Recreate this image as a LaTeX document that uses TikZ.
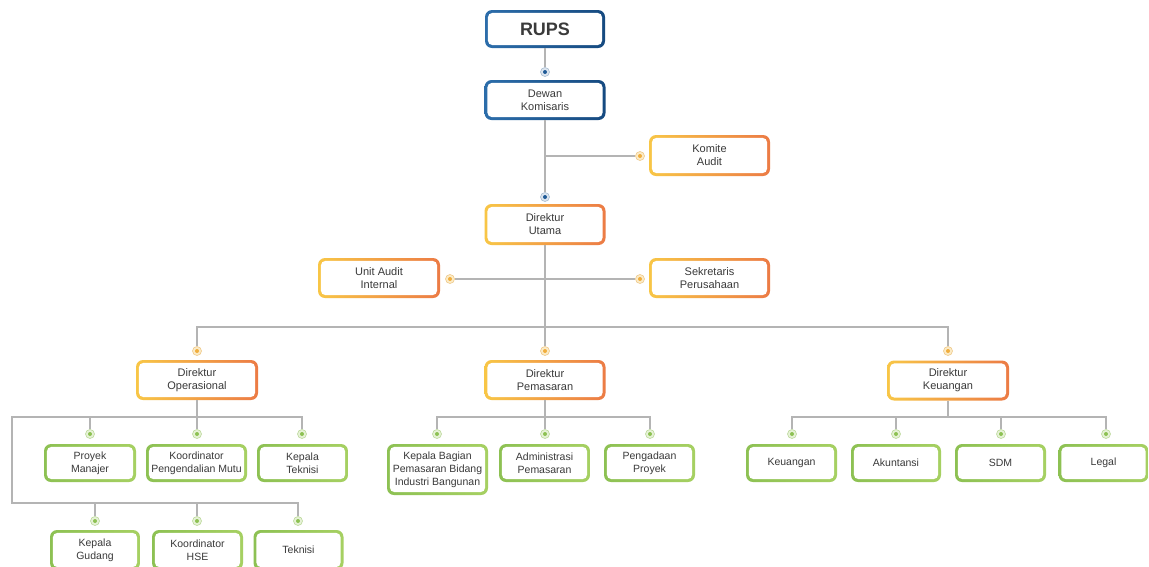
\documentclass[tikz,border=0pt]{standalone}
\usepackage{fontspec}
\setmainfont{Liberation Sans}
\usetikzlibrary{calc}
\definecolor{bluea}{HTML}{2C6DAA}
\definecolor{blueb}{HTML}{164A80}
\definecolor{oranga}{HTML}{F8C646}
\definecolor{orangb}{HTML}{EC7B45}
\definecolor{greena}{HTML}{8DC153}
\definecolor{greenb}{HTML}{A6D062}
\definecolor{conn}{HTML}{B4B4B4}
\definecolor{txt}{HTML}{3A3A3A}
\definecolor{bring}{HTML}{DCE5EF}
\definecolor{bringd}{HTML}{A8BCD0}
\definecolor{bcen}{HTML}{1F5A96}
\definecolor{oring}{HTML}{FCEBC6}
\definecolor{oringd}{HTML}{EEC98A}
\definecolor{ocen}{HTML}{F0AE3E}
\definecolor{gring}{HTML}{E6F2D6}
\definecolor{gringd}{HTML}{BCD99B}
\definecolor{gcen}{HTML}{8DC153}
\tikzset{
  boxbase/.style={rounded corners=7pt, inner sep=0pt, align=center, text=txt,
    font=\fontsize{11}{13}\selectfont,
    path picture={\fill[white, rounded corners=4.5pt]
      ([shift={(2.9pt,2.9pt)}]path picture bounding box.south west) rectangle
      ([shift={(-2.9pt,-2.9pt)}]path picture bounding box.north east);}},
  bbox/.style={boxbase, left color=bluea, right color=blueb, minimum width=121pt, minimum height=40pt},
  obox/.style={boxbase, left color=oranga, right color=orangb, minimum width=122pt, minimum height=40pt},
  gbox/.style={boxbase, left color=greena, right color=greenb, minimum width=91pt, minimum height=38pt,
    font=\fontsize{10.5}{13}\selectfont},
  dotbase/.style={circle, minimum size=9pt, inner sep=0pt, line width=0.6pt},
  bdot/.style={dotbase, fill=bring, draw=bringd,
    path picture={\fill[bcen] (path picture bounding box.center) circle (2pt);}},
  odot/.style={dotbase, fill=oring, draw=oringd,
    path picture={\fill[ocen] (path picture bounding box.center) circle (2pt);}},
  gdot/.style={dotbase, fill=gring, draw=gringd,
    path picture={\fill[gcen] (path picture bounding box.center) circle (2pt);}},
  cn/.style={draw=conn, line width=1.2pt}
}
\begin{document}
\begin{tikzpicture}[x=1pt,y=-1pt]
\useasboundingbox (0,0) rectangle (1149,566);
\fill[white] (0,0) rectangle (1149,566);
\begin{scope}
\clip (0,0) rectangle (1149,566);
% top
\node[bbox, minimum width=120pt, minimum height=38pt, font=\bfseries\fontsize{18}{20}\selectfont] (rups) at (545,29) {RUPS};
\node[bdot] (d-dk) at (545,72) {};
\node[bbox] (dk) at (545,100) {Dewan\\Komisaris};
\node[odot] (d-ka) at (640,156) {};
\node[obox, minimum width=121pt, minimum height=41pt] (ka) at (709.5,155.5) {Komite\\Audit};
\node[bdot] (d-du) at (545,197) {};
\node[obox, minimum width=121pt, minimum height=41pt] (du) at (545,224.5) {Direktur\\Utama};
\node[obox] (ua) at (379,278) {Unit Audit\\Internal};
\node[odot] (d-ua) at (450,279) {};
\node[obox, minimum width=121pt] (sp) at (709.5,278) {Sekretaris\\Perusahaan};
\node[odot] (d-sp) at (640,279) {};
\coordinate (bar) at (545,327);
% directors
\node[odot] (d-dop) at (197,351) {};
\node[odot] (d-dpm) at (545,351) {};
\node[odot] (d-dke) at (948,351) {};
\node[obox] (dop) at (197,380) {Direktur\\Operasional};
\node[obox, minimum width=121pt] (dpm) at (545,380) {Direktur\\Pemasaran};
\node[obox] (dke) at (948,380.5) {Direktur\\Keuangan};
\coordinate (opb) at (197,417);
\coordinate (opl) at (12,417);
\coordinate (opl2) at (12,503);
% operasional row 1
\node[gdot] (d-pm) at (90,434) {};
\node[gdot] (d-kpm) at (197,434) {};
\node[gdot] (d-kt) at (302,434) {};
\node[gbox, minimum width=92pt] (pm) at (90,463) {Proyek\\Manajer};
\node[gbox, minimum width=101pt] (kpm) at (196.5,463) {Koordinator\\Pengendalian Mutu};
\node[gbox] (kt) at (302.5,463) {Kepala\\Teknisi};
% operasional row 2
\node[gdot] (d-kg) at (95,521) {};
\node[gdot] (d-kh) at (197,521) {};
\node[gdot] (d-tk) at (298,521) {};
\node[gbox, minimum width=90pt, minimum height=40pt] (kg) at (95,550) {Kepala\\Gudang};
\node[gbox, minimum width=91pt, minimum height=40pt] (kh) at (197.5,550) {Koordinator\\HSE};
\node[gbox, minimum width=90pt, minimum height=40pt] (tk) at (298.5,550) {Teknisi};
% pemasaran
\node[gdot] (d-kb) at (437,434) {};
\node[gdot] (d-ap) at (545,434) {};
\node[gdot] (d-pp) at (650,434) {};
\node[gbox, minimum width=101pt, minimum height=51pt] (kb) at (437.5,469.5) {Kepala Bagian\\Pemasaran Bidang\\Industri Bangunan};
\node[gbox] (ap) at (544.5,463) {Administrasi\\Pemasaran};
\node[gbox] (pp) at (649.5,463) {Pengadaan\\Proyek};
% keuangan
\node[gdot] (d-keu) at (792,434) {};
\node[gdot] (d-ak) at (896,434) {};
\node[gdot] (d-sdm) at (1001,434) {};
\node[gdot] (d-lg) at (1106,434) {};
\node[gbox] (keu) at (791.5,463) {Keuangan};
\node[gbox, minimum width=90pt] (ak) at (896,463) {Akuntansi};
\node[gbox] (sdm) at (1000.5,463) {SDM};
\node[gbox, minimum width=90pt] (lg) at (1103.5,463) {Legal};
% connectors
\draw[cn] (rups) -- (d-dk);
\draw[cn] (dk) -- (d-du);
\draw[cn] (dk.south |- d-ka) -- (d-ka);
\draw[cn] (du) -- (bar);
\draw[cn] (d-ua) -- (d-sp);
\draw[cn] (d-dop) -- (d-dop |- bar) -- (d-dke |- bar) -- (d-dke);
\draw[cn] (bar) -- (d-dpm);
\draw[cn] (dop) -- (d-kpm);
\draw[cn] (d-pm) -- (d-pm |- opb) -- (d-kt |- opb) -- (d-kt);
\draw[cn] (d-pm |- opb) -- (opl) -- (opl2) -- (d-tk |- opl2) -- (d-tk);
\draw[cn] (d-kg) -- (d-kg |- opl2);
\draw[cn] (d-kh) -- (d-kh |- opl2);
\draw[cn] (dpm) -- (d-ap);
\draw[cn] (d-kb) -- (d-kb |- opb) -- (d-pp |- opb) -- (d-pp);
\draw[cn] (dke) -- (dke |- opb);
\draw[cn] (d-keu) -- (d-keu |- opb) -- (d-lg |- opb) -- (d-lg);
\draw[cn] (d-ak) -- (d-ak |- opb);
\draw[cn] (d-sdm) -- (d-sdm |- opb);
\end{scope}
\end{tikzpicture}
\end{document}
